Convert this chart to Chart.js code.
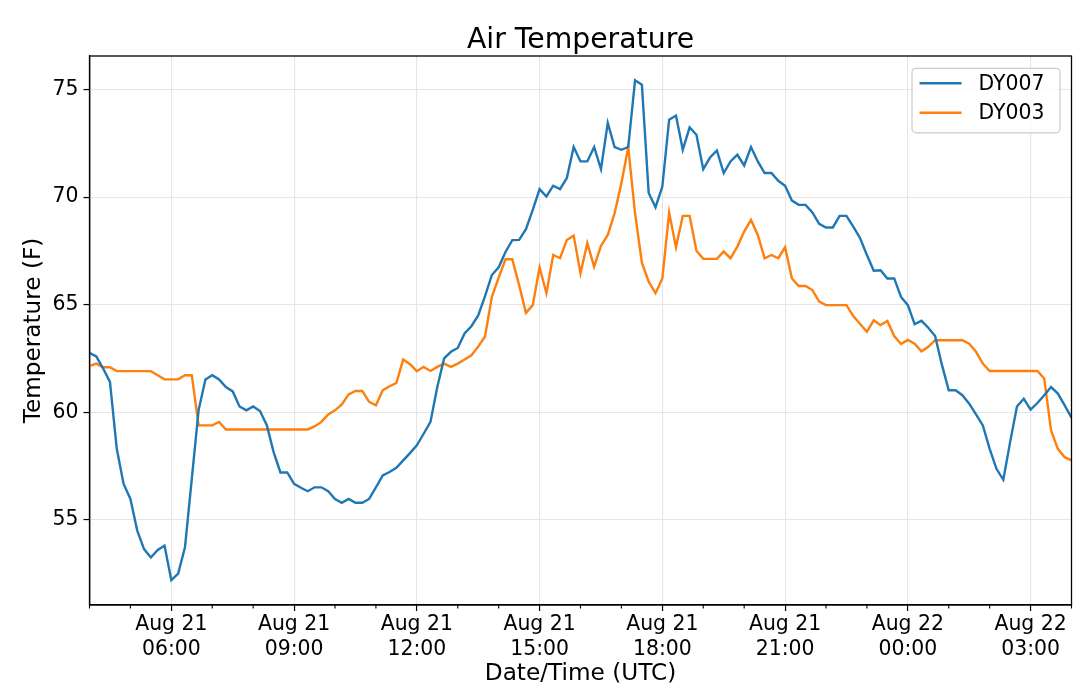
<!DOCTYPE html>
<html>
<head>
<meta charset="utf-8">
<script src="https://cdn.jsdelivr.net/npm/chart.js@4.4.0/dist/chart.umd.min.js"></script>
<style>
html,body{margin:0;padding:0;background:#ffffff;}
#wrap{width:1080px;height:696px;}
</style>
</head>
<body>
<div id="wrap"><canvas id="c" width="1080" height="696"></canvas></div>
<script>
// ---- data ----
// readings every 10 minutes, Aug 21 04:00 UTC to Aug 22 04:00 UTC (hours since Aug 21 00:00)
const startHour = 4;
const stepMinutes = 10;
const timeHours = Array.from({length: 145}, (_, i) => startHour + i * stepMinutes / 60);

const seriesNames = ['DY007', 'DY003'];

const dy007 = [
  62.76, 62.6, 62.03, 61.41, 58.3, 56.67, 55.97, 54.5, 53.64, 53.25,
  53.6, 53.8, 52.2, 52.5, 53.72, 56.9, 60.1, 61.52, 61.72, 61.52,
  61.17, 60.97, 60.27, 60.09, 60.27, 60.06, 59.4, 58.15, 57.2, 57.2,
  56.67, 56.49, 56.33, 56.51, 56.51, 56.33, 55.97, 55.79, 55.97, 55.79,
  55.79, 55.97, 56.51, 57.06, 57.22, 57.42, 57.76, 58.1, 58.46, 59.0,
  59.55, 61.17, 62.5, 62.81, 62.99, 63.66, 64.0, 64.5, 65.4, 66.38,
  66.74, 67.45, 68.0, 68.01, 68.51, 69.41, 70.37, 70.03, 70.53, 70.37,
  70.89, 72.33, 71.66, 71.66, 72.33, 71.3, 73.45, 72.33, 72.2, 72.33,
  75.43, 75.23, 70.19, 69.53, 70.49, 73.6, 73.79, 72.2, 73.24, 72.9,
  71.3, 71.84, 72.17, 71.12, 71.66, 71.97, 71.47, 72.33, 71.66, 71.12,
  71.12, 70.76, 70.53, 69.84, 69.64, 69.64, 69.29, 68.76, 68.59, 68.59,
  69.13, 69.13, 68.63, 68.09, 67.31, 66.58, 66.6, 66.22, 66.22, 65.36,
  64.98, 64.1, 64.25, 63.93, 63.54, 62.2, 61.02, 61.02, 60.79, 60.4,
  59.9, 59.39, 58.3, 57.37, 56.86, 58.61, 60.27, 60.63, 60.12, 60.43,
  60.79, 61.17, 60.87, 60.32, 59.75
];

const dy003 = [
  62.14, 62.26, 62.09, 62.09, 61.91, 61.91, 61.91, 61.91, 61.91, 61.91,
  61.72, 61.53, 61.53, 61.53, 61.72, 61.72, 59.39, 59.39, 59.39, 59.55,
  59.2, 59.2, 59.2, 59.2, 59.2, 59.2, 59.2, 59.2, 59.2, 59.2,
  59.2, 59.2, 59.2, 59.34, 59.55, 59.9, 60.09, 60.36, 60.83, 60.99,
  60.99, 60.48, 60.32, 61.02, 61.21, 61.36, 62.45, 62.23, 61.91, 62.11,
  61.92, 62.11, 62.26, 62.11, 62.26, 62.45, 62.65, 63.05, 63.52, 65.37,
  66.26, 67.11, 67.11, 65.91, 64.62, 64.98, 66.74, 65.53, 67.31, 67.16,
  68.01, 68.21, 66.46, 67.86, 66.77, 67.73, 68.24, 69.25, 70.65, 72.33,
  69.25, 66.95, 66.07, 65.53, 66.22, 69.28, 67.67, 69.13, 69.13, 67.51,
  67.13, 67.13, 67.13, 67.47, 67.16, 67.7, 68.4, 68.94, 68.24, 67.16,
  67.31, 67.16, 67.67, 66.22, 65.87, 65.87, 65.68, 65.14, 64.98, 64.98,
  64.98, 64.98, 64.47, 64.1, 63.74, 64.28, 64.05, 64.24, 63.54, 63.17,
  63.36, 63.19, 62.83, 63.04, 63.35, 63.35, 63.35, 63.35, 63.35, 63.19,
  62.81, 62.26, 61.92, 61.92, 61.92, 61.92, 61.92, 61.92, 61.92, 61.92,
  61.57, 59.16, 58.3, 57.91, 57.76
];

const xTickHours = [6, 9, 12, 15, 18, 21, 24, 27];
const xTickLabels = [
  ['Aug 21', '06:00'], ['Aug 21', '09:00'], ['Aug 21', '12:00'], ['Aug 21', '15:00'],
  ['Aug 21', '18:00'], ['Aug 21', '21:00'], ['Aug 22', '00:00'], ['Aug 22', '03:00']
];
const xMinorHours = [4, 5, 7, 8, 10, 11, 13, 14, 16, 17, 19, 20, 22, 23, 25, 26, 28];
const yTicks = [55, 60, 65, 70, 75];

const colors = ['#1f77b4', '#ff7f0e'];

// ---- chart ----
const F = "'DejaVu Sans', sans-serif";

const framePlugin = {
  id: 'frame',
  afterDraw(chart) {
    const {ctx, chartArea: a} = chart;
    ctx.save();
    ctx.strokeStyle = '#000';
    ctx.lineWidth = 1.3;
    ctx.strokeRect(a.left, a.top, a.right - a.left, a.bottom - a.top);
    // minor ticks on x axis
    const xs = chart.scales.x;
    ctx.lineWidth = 1.1;
    ctx.beginPath();
    xMinorHours.forEach(h => {
      const px = xs.getPixelForValue(h);
      ctx.moveTo(px, a.bottom);
      ctx.lineTo(px, a.bottom + 3.5);
    });
    ctx.stroke();
    ctx.restore();
  }
};

const legendPlugin = {
  id: 'boxLegend',
  afterDraw(chart) {
    const {ctx, chartArea: a} = chart;
    const w = 148, h = 64.5;
    const x0 = a.right - 11.5 - w, y0 = a.top + 12.3;
    ctx.save();
    ctx.beginPath();
    if (ctx.roundRect) ctx.roundRect(x0, y0, w, h, 4); else ctx.rect(x0, y0, w, h);
    ctx.fillStyle = 'rgba(255,255,255,0.8)';
    ctx.fill();
    ctx.strokeStyle = '#cccccc';
    ctx.lineWidth = 1.2;
    ctx.stroke();
    chart.data.datasets.forEach((ds, i) => {
      const y = y0 + 15 + i * 29.4;
      ctx.beginPath();
      ctx.strokeStyle = ds.borderColor;
      ctx.lineWidth = 2.4;
      ctx.moveTo(x0 + 7.5, y);
      ctx.lineTo(x0 + 49.5, y);
      ctx.stroke();
      ctx.fillStyle = '#000';
      ctx.font = "20.4px " + F;
      ctx.textBaseline = 'middle';
      ctx.textAlign = 'left';
      ctx.fillText(ds.label, x0 + 66.5, y + 1);
    });
    ctx.restore();
  }
};

new Chart(document.getElementById('c').getContext('2d'), {
  type: 'line',
  data: {
    datasets: [
      {
        label: seriesNames[0],
        data: timeHours.map((t, i) => ({x: t, y: dy007[i]})),
        borderColor: colors[0], backgroundColor: colors[0],
        borderWidth: 2.4, pointRadius: 0, tension: 0, fill: false
      },
      {
        label: seriesNames[1],
        data: timeHours.map((t, i) => ({x: t, y: dy003[i]})),
        borderColor: colors[1], backgroundColor: colors[1],
        borderWidth: 2.4, pointRadius: 0, tension: 0, fill: false
      }
    ]
  },
  options: {
    responsive: false,
    animation: false,
    devicePixelRatio: 1,
    events: [],
    layout: {padding: {left: 0, right: 8.5, top: 0, bottom: 0}},
    plugins: {
      legend: {display: false},
      tooltip: {enabled: false},
      title: {
        display: true, text: 'Air Temperature', color: '#000', fullSize: false,
        font: {family: F, size: 28.3, weight: 'normal', lineHeight: 1.0},
        padding: {top: 26.1, bottom: 1.6}
      }
    },
    scales: {
      x: {
        type: 'linear', min: 4, max: 28,
        afterBuildTicks: s => { s.ticks = xTickHours.map(v => ({value: v})); },
        afterFit: s => { s.height = 91; },
        ticks: {
          autoSkip: false, maxRotation: 0, minRotation: 0, padding: 1.5, color: '#000',
          font: {family: F, size: 20.4, lineHeight: 1.2},
          callback: v => { const i = xTickHours.indexOf(v); return i >= 0 ? xTickLabels[i] : ''; }
        },
        grid: {color: '#e6e6e6', lineWidth: 1.1, tickColor: '#000', tickLength: 6, tickWidth: 1.2},
        border: {display: true, color: '#000', width: 1.3},
        title: {
          display: true, text: 'Date/Time (UTC)', color: '#000',
          font: {family: F, size: 23.2, lineHeight: 1.2},
          padding: {top: 0, bottom: 8}
        }
      },
      y: {
        type: 'linear', min: 51.04, max: 76.56,
        afterBuildTicks: s => { s.ticks = yTicks.map(v => ({value: v})); },
        afterFit: s => { s.width = 89.5; },
        ticks: {padding: 5, color: '#000', font: {family: F, size: 20.4, lineHeight: 1.2}},
        grid: {color: '#e6e6e6', lineWidth: 1.1, tickColor: '#000', tickLength: 6, tickWidth: 1.2},
        border: {display: true, color: '#000', width: 1.3},
        title: {
          display: true, text: 'Temperature (F)', color: '#000',
          font: {family: F, size: 23.2, lineHeight: 1.2},
          padding: {top: 20, bottom: 0}
        }
      }
    }
  },
  plugins: [framePlugin, legendPlugin]
});
</script>
</body>
</html>
